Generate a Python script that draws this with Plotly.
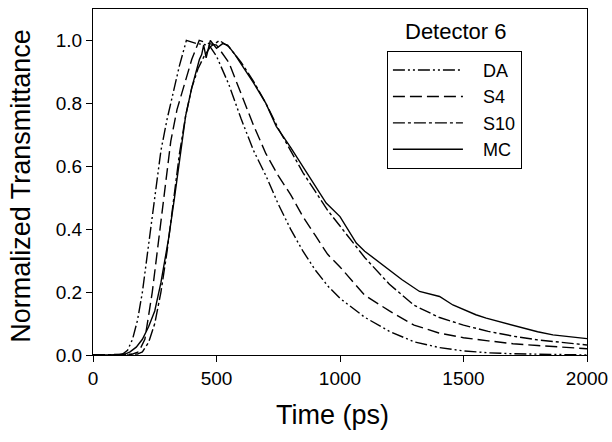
import plotly.graph_objects as go

# ---- data ----
da_t = [0, 100, 120, 140, 160, 180, 200, 225, 250, 275, 300, 325, 350, 378, 420, 470, 500, 550,
        600, 650, 700, 750, 800, 850, 900, 950, 1000, 1100, 1200, 1300, 1400, 1500, 1600, 1700,
        1800, 1900, 2000]
da_v = [0, 0, 0.003, 0.015, 0.05, 0.11, 0.2, 0.35, 0.5, 0.65, 0.75, 0.84, 0.92, 1.0, 0.99, 0.985,
        0.95, 0.86, 0.75, 0.65, 0.57, 0.48, 0.40, 0.33, 0.27, 0.22, 0.18, 0.12, 0.075, 0.042,
        0.024, 0.013, 0.007, 0.004, 0.002, 0.001, 0.0]

s4_t = [0, 150, 185, 210, 240, 265, 290, 315, 340, 365, 400, 430, 470, 500, 550, 600, 650, 700,
        750, 800, 850, 900, 950, 1000, 1100, 1200, 1300, 1400, 1500, 1600, 1700, 1800, 1900, 2000]
s4_v = [0, 0, 0.01, 0.05, 0.2, 0.36, 0.52, 0.68, 0.78, 0.85, 0.94, 1.0, 0.99, 0.985, 0.93, 0.83,
        0.73, 0.64, 0.57, 0.51, 0.44, 0.38, 0.32, 0.28, 0.19, 0.14, 0.095, 0.07, 0.055, 0.045,
        0.036, 0.03, 0.025, 0.02]

s10_t = [0, 180, 200, 225, 250, 275, 300, 325, 350, 375, 400, 425, 450, 475, 512, 550, 600, 650,
         700, 750, 800, 850, 900, 950, 1000, 1100, 1200, 1250, 1300, 1400, 1500, 1600, 1700,
         1800, 1900, 2000]
s10_v = [0, 0.003, 0.01, 0.04, 0.1, 0.2, 0.33, 0.48, 0.64, 0.76, 0.85, 0.91, 0.95, 0.98, 1.0,
         0.98, 0.93, 0.87, 0.80, 0.72, 0.65, 0.58, 0.52, 0.46, 0.41, 0.31, 0.225, 0.19, 0.158,
         0.12, 0.095, 0.075, 0.06, 0.048, 0.039, 0.032]

mc_t = [0, 110, 130, 150, 175, 200, 225, 250, 275, 306, 330, 357, 375, 400, 431, 440, 448, 458,
        475, 500, 525, 545, 575, 600, 650, 700, 742, 800, 850, 900, 944, 1000, 1066, 1100, 1150,
        1214, 1250, 1322, 1360, 1403, 1457, 1500, 1550, 1592, 1650, 1727, 1800, 1862, 1930, 2000]
mc_v = [0, 0, 0.003, 0.01, 0.025, 0.05, 0.09, 0.14, 0.23, 0.37, 0.5, 0.65, 0.76, 0.85, 0.94,
        0.955, 0.985, 0.945, 1.0, 0.975, 0.99, 0.985, 0.955, 0.925, 0.865, 0.80, 0.727, 0.66,
        0.60, 0.54, 0.483, 0.44, 0.356, 0.33, 0.30, 0.26, 0.24, 0.202, 0.195, 0.186, 0.159,
        0.145, 0.128, 0.117, 0.105, 0.09, 0.074, 0.064, 0.058, 0.052]

series_names = ["DA", "S4", "S10", "MC"]
x_ticks = [0, 500, 1000, 1500, 2000]
y_ticks = [0.0, 0.2, 0.4, 0.6, 0.8, 1.0]

FONT = "Liberation Sans, Arial, sans-serif"

styles = {
    "DA": "12px,3px,2px,3px,2px,3px",
    "S4": "12px,5px",
    "S10": "12px,3px,3px,3px",
    "MC": "solid",
}

fig = go.Figure()
for name, t, v in zip(series_names, [da_t, s4_t, s10_t, mc_t], [da_v, s4_v, s10_v, mc_v]):
    fig.add_trace(go.Scatter(
        x=t, y=v, mode="lines", name="   " + name,
        line=dict(color="black", width=1.4, dash=styles[name]),
    ))

fig.update_layout(
    width=612, height=442,
    margin=dict(l=93, r=25, t=9, b=87, autoexpand=False),
    paper_bgcolor="white", plot_bgcolor="white",
    font=dict(family=FONT, size=20, color="black"),
    showlegend=True,
    legend=dict(
        x=0.595, y=0.879, xanchor="left", yanchor="top",
        bordercolor="black", borderwidth=1, bgcolor="white",
        font=dict(size=18), itemwidth=70, tracegroupgap=0,
    ),
    annotations=[
        dict(text="Detector 6", x=0.735, y=0.935, xref="paper", yref="paper",
             xanchor="center", yanchor="middle", showarrow=False,
             font=dict(size=22, family=FONT)),
        dict(text="Time (ps)", x=0.484, y=-0.172, xref="paper", yref="paper",
             xanchor="center", yanchor="middle", showarrow=False,
             font=dict(size=27, family=FONT)),
        dict(text="Normalized Transmittance", x=-0.145, y=0.49, xref="paper", yref="paper",
             xanchor="center", yanchor="middle", showarrow=False, textangle=-90,
             font=dict(size=27, family=FONT)),
    ],
)
fig.update_xaxes(
    range=[0, 2000], tickvals=x_ticks, ticktext=[str(v) for v in x_ticks],
    showline=True, linecolor="black", linewidth=1.3, mirror=True,
    ticks="outside", ticklen=6, tickcolor="black", showgrid=False, zeroline=False,
    automargin=False, tickfont=dict(size=19),
)
fig.update_yaxes(
    range=[0, 1.1], tickvals=y_ticks, ticktext=[f"{v:.1f}" for v in y_ticks],
    showline=True, linecolor="black", linewidth=1.3, mirror=True,
    ticks="outside", ticklen=6, tickcolor="black", showgrid=False, zeroline=False,
    automargin=False, tickfont=dict(size=19),
)

fig.write_html("out.html", config={"displayModeBar": False},
               post_script="document.body.style.margin='0px';")
